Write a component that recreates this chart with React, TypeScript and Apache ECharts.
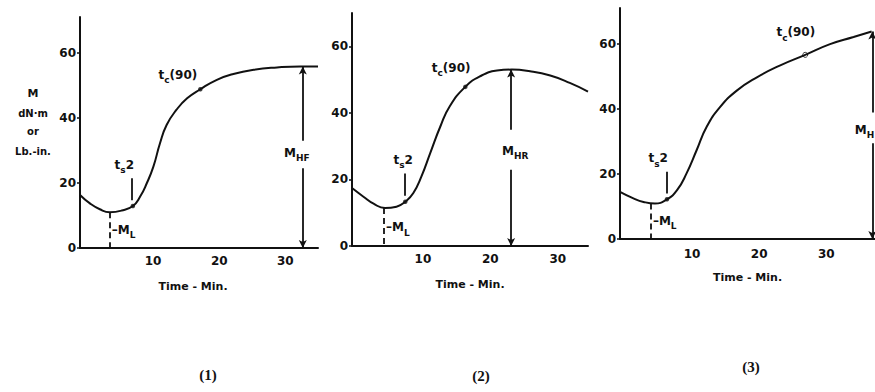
import React, { useEffect, useRef } from 'react';
import * as echarts from 'echarts';

// ---------- data ----------
const xTickValues = [10, 20, 30];
const yTickValues = [0, 20, 40, 60];
const xAxisTitle = 'Time - Min.';
const panelCaptions = ['(1)', '(2)', '(3)'];
const yTitleLines = ['M', 'dN·m', 'or', 'Lb.-in.'];

// curve (1)
const time1 = [0, 1.5, 3, 4.5, 6.3, 8, 9.1, 10.1, 11.1, 12.1, 13.1, 14.6, 16.2, 18.2, 20.7, 23.2, 26.3, 29.8, 33.3, 36];
const torque1 = [16.3, 13.7, 11.9, 11.0, 11.5, 12.9, 15.8, 19.9, 25, 32.2, 37.8, 42.5, 46, 48.8, 51.7, 53.5, 54.8, 55.5, 55.8, 55.8];
// curve (2)
const time2 = [0, 1.7, 3.2, 4.9, 6.6, 7.9, 9.1, 10.3, 11.6, 13.1, 14.5, 16.8, 19.0, 21.5, 23.7, 26.4, 29.4, 32.3, 35];
const torque2 = [17.4, 14.8, 12.7, 11.4, 11.8, 13.3, 15.9, 20.9, 27.9, 35.9, 42, 47.8, 51, 52.7, 53, 52.5, 51.2, 49, 46.4];
// curve (3)
const time3 = [0, 2.0, 3.5, 5.2, 7.0, 8.5, 9.9, 11.4, 12.9, 14.9, 17.4, 20.4, 23.8, 27.6, 31.3, 34.8, 37.5];
const torque3 = [14.5, 12.5, 11.4, 10.9, 12.2, 15, 20.1, 27.2, 34.4, 40.5, 45.6, 49.7, 53.3, 56.6, 59.9, 62.1, 63.8];

// characteristic points per panel
const minTime = [4.5, 4.75, 4.6];
const minTorque = [11.0, 11.4, 10.9];
const scorchTime = [8.0, 7.9, 7.0];
const scorchTorque = [12.9, 13.3, 12.2];
const cureTime = [18.2, 16.8, 27.6];
const cureTorque = [48.8, 47.8, 56.6];
const maxTime = [33.7, 23.6, 37.6];
const maxTorque = [55.8, 53.0, 63.8];
const maxSubscripts = ['HF', 'HR', 'H'];

// ---------- layout / style ----------
const FONT = 'DejaVu Sans';
const INK = '#111111';

const layout = [
  { left: 80, top: 17, width: 238, height: 231, xMax: 36, yMax: 71, shift: 14, margin: 7,
    tsDx: -1.3, tcDx: -3.4, tcDy: 3.8, gapTop: 33, gapBottom: 24.5, maxLabelY: 28.6, maxLabelDx: -0.9, maxAlign: 'center' },
  { left: 352, top: 13, width: 236, height: 233, xMax: 35, yMax: 70, shift: 7, margin: 7,
    tsDx: -0.3, tcDx: -2.1, tcDy: 5.2, gapTop: 34.9, gapBottom: 22.9, maxLabelY: 28, maxLabelDx: 0.6, maxAlign: 'center' },
  { left: 620, top: 8, width: 255, height: 231, xMax: 38, yMax: 71, shift: 10, margin: 9,
    tsDx: -1.3, tcDx: -1.4, tcDy: 6.4, gapTop: 38.9, gapBottom: 29.4, maxLabelY: 33, maxLabelDx: 0.3, maxAlign: 'right' },
];
const captionPos = [[208, 375], [481, 376], [751, 367]];

const rich = {
  b: { fontFamily: FONT, fontWeight: 'bold', fontSize: 12, color: INK, lineHeight: 16, verticalAlign: 'top', textBorderWidth: 0 },
  s: { fontFamily: FONT, fontWeight: 'bold', fontSize: 9, color: INK, lineHeight: 7, verticalAlign: 'bottom', textBorderWidth: 0 },
};

function buildOption() {
  const times = [time1, time2, time3];
  const torques = [torque1, torque2, torque3];
  const grid: any[] = [];
  const xAxis: any[] = [];
  const yAxis: any[] = [];
  const series: any[] = [];

  layout.forEach((L, i) => {
    grid.push({ left: L.left, top: L.top, width: L.width, height: L.height, containLabel: false });
    xAxis.push({
      gridIndex: i, type: 'value', min: 0, max: L.xMax,
      axisLine: { show: true, onZero: false, lineStyle: { color: INK, width: 2 } },
      axisTick: { show: false },
      splitLine: { show: false },
      axisLabel: {
        customValues: xTickValues, margin: L.margin, padding: [0, 0, 0, L.shift],
        fontFamily: FONT, fontWeight: 'bold', fontSize: 12, color: INK,
      },
      name: xAxisTitle, nameLocation: 'middle', nameGap: 33,
      nameTextStyle: { fontFamily: FONT, fontWeight: 'bold', fontSize: 11, color: INK, padding: i === 0 ? [0, 12, 0, 0] : 0 },
    });
    yAxis.push({
      gridIndex: i, type: 'value', min: 0, max: L.yMax,
      axisLine: { show: true, onZero: false, lineStyle: { color: INK, width: 2 } },
      axisTick: { show: true, customValues: yTickValues, length: 3, lineStyle: { color: INK, width: 1.5 } },
      splitLine: { show: false },
      axisLabel: { customValues: yTickValues, margin: 4, fontFamily: FONT, fontWeight: 'bold', fontSize: 12, color: INK },
    });

    const t = times[i];
    const m = torques[i];
    const curve = t.map((v, k) => [v, m[k]]);
    const arrow = { symbol: 'arrow', symbolSize: [6, 8] };

    series.push({
      type: 'line', xAxisIndex: i, yAxisIndex: i, data: curve, smooth: 0.5,
      symbol: 'none', lineStyle: { color: INK, width: 2 }, silent: true,
      markLine: {
        silent: true, symbol: 'none', label: { show: false },
        lineStyle: { color: INK, width: 1.8, type: 'solid' },
        emphasis: { disabled: true },
        data: [
          [{ coord: [minTime[i], minTorque[i]], lineStyle: { type: [6, 4], width: 1.8, color: INK } }, { coord: [minTime[i], 0] }],
          [{ coord: [scorchTime[i] - 0.1, scorchTorque[i] + 1.8] }, { coord: [scorchTime[i] - 0.1, scorchTorque[i] + 8.5] }],
          [{ coord: [maxTime[i], maxTorque[i]], ...arrow }, { coord: [maxTime[i], L.gapTop], symbol: 'none' }],
          [{ coord: [maxTime[i], L.gapBottom], symbol: 'none' }, { coord: [maxTime[i], 0], ...arrow }],
        ],
      },
    });

    // dots on the curve
    series.push({
      type: 'scatter', xAxisIndex: i, yAxisIndex: i, silent: true,
      data: [
        { value: [scorchTime[i], scorchTorque[i]], symbolSize: 4.5, itemStyle: { color: INK } },
        {
          value: [cureTime[i], cureTorque[i]], symbolSize: i === 2 ? 5 : 4.5,
          itemStyle: i === 2 ? { color: '#fff', borderColor: INK, borderWidth: 1 } : { color: INK },
        },
      ],
    });

    // text annotations
    const txt = (x: number, y: number, formatter: string, align = 'center') => ({
      value: [x, y],
      label: {
        show: true, position: 'inside', align, verticalAlign: 'middle', formatter, rich,
        color: INK, textBorderWidth: 0, textBorderColor: 'transparent', opacity: 1,
      },
    });
    series.push({
      type: 'scatter', xAxisIndex: i, yAxisIndex: i, silent: true, symbolSize: 1,
      itemStyle: { color: '#ffffff', opacity: 0 },
      data: [
        txt(minTime[i] + 0.3, 5, '{b|–M}{s|L}', 'left'),
        txt(scorchTime[i] + L.tsDx, scorchTorque[i] + 12, '{b|t}{s|s}{b|2}'),
        txt(cureTime[i] + L.tcDx, cureTorque[i] + L.tcDy, '{b|t}{s|c}{b|(90)}'),
        txt(maxTime[i] + L.maxLabelDx, L.maxLabelY, '{b|M}{s|' + maxSubscripts[i] + '}', L.maxAlign),
      ],
    });
  });

  const graphic: any[] = [];
  const yTitleY = [93, 113, 131, 151];
  yTitleLines.forEach((s, k) => {
    graphic.push({
      type: 'text', x: 33, y: yTitleY[k],
      style: { text: s, fill: INK, font: `bold ${k === 0 ? 11 : 10}px "${FONT}"`, align: 'center', verticalAlign: 'middle' },
    });
  });
  panelCaptions.forEach((s, k) => {
    graphic.push({
      type: 'text', x: captionPos[k][0], y: captionPos[k][1],
      style: { text: s, fill: '#111', font: 'bold 15px "Liberation Serif"', align: 'center', verticalAlign: 'middle' },
    });
  });

  return { animation: false, backgroundColor: '#fff', grid, xAxis, yAxis, series, graphic };
}

export default function App() {
  const ref = useRef<HTMLDivElement>(null);
  useEffect(() => {
    if (!ref.current) return;
    const chart = echarts.init(ref.current, undefined, { renderer: 'svg' });
    chart.setOption(buildOption() as any);
    return () => chart.dispose();
  }, []);
  return <div ref={ref} style={{ position: 'absolute', left: 0, top: 0, width: 875, height: 392 }} />;
}
